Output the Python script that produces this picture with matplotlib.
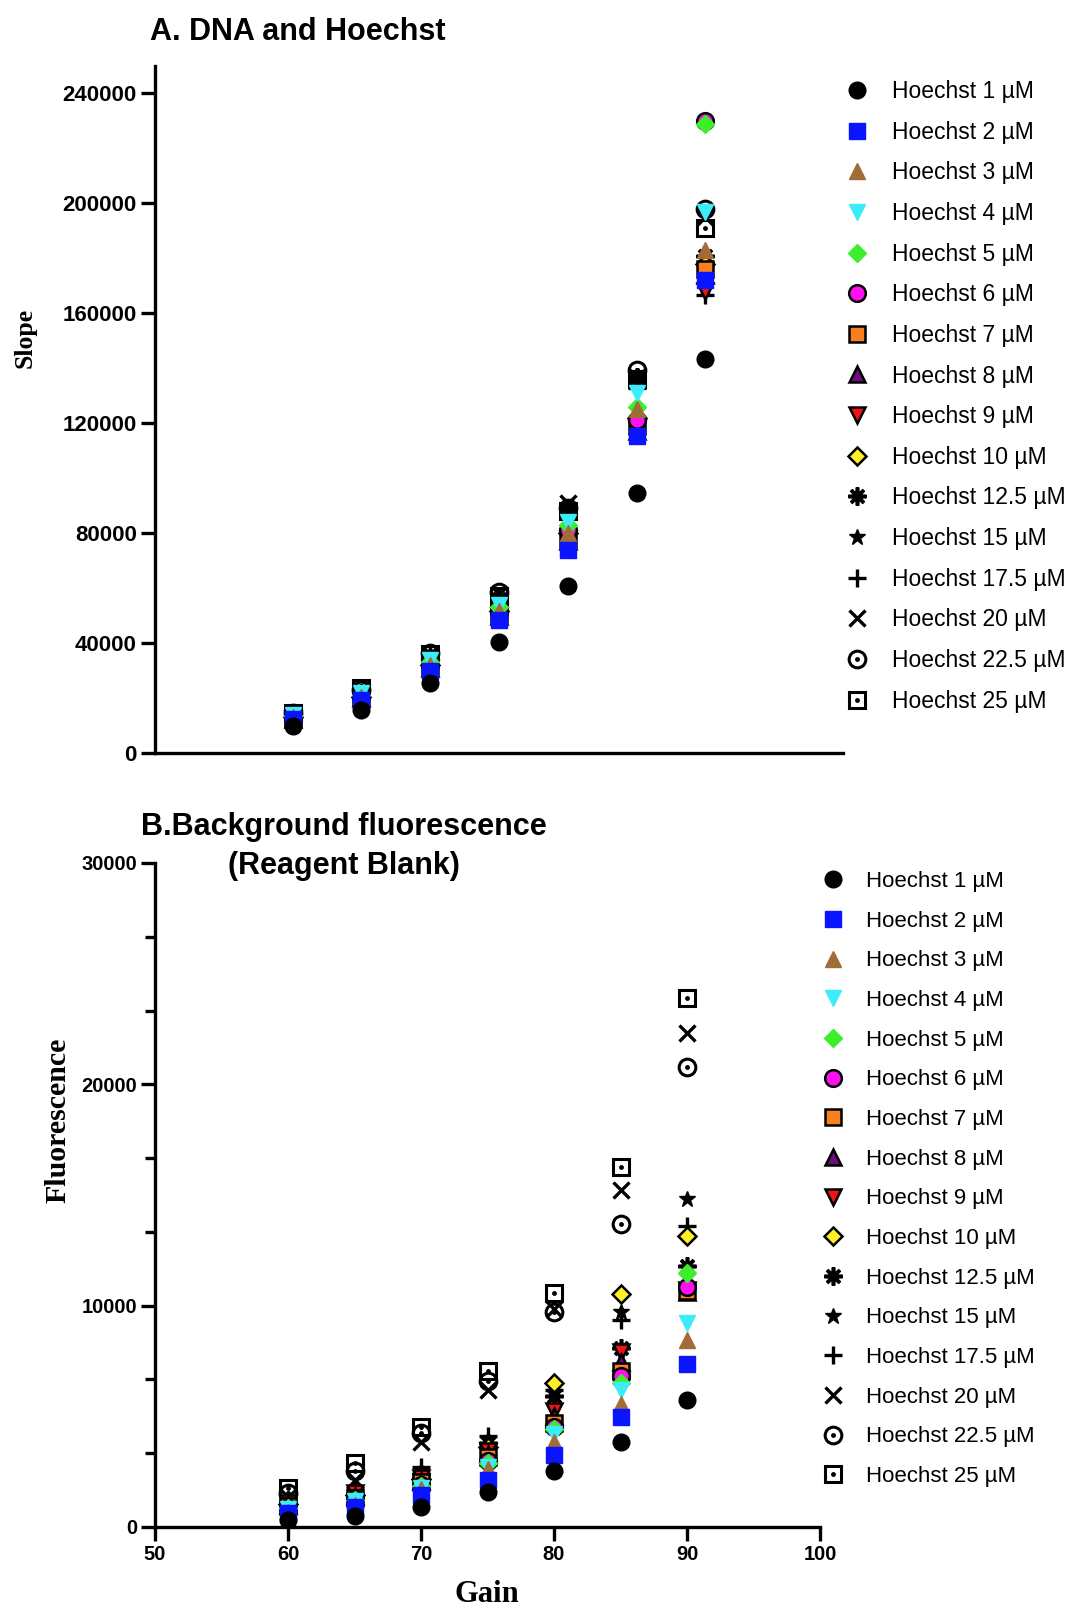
import matplotlib
matplotlib.use('Agg')
import matplotlib.pyplot as plt
from matplotlib.legend_handler import HandlerTuple
from matplotlib.ticker import MultipleLocator, StrMethodFormatter

gain = [60, 65, 70, 75, 80, 85, 90]

labels = ['Hoechst 1 µM', 'Hoechst 2 µM', 'Hoechst 3 µM', 'Hoechst 4 µM',
          'Hoechst 5 µM', 'Hoechst 6 µM', 'Hoechst 7 µM', 'Hoechst 8 µM',
          'Hoechst 9 µM', 'Hoechst 10 µM', 'Hoechst 12.5 µM', 'Hoechst 15 µM',
          'Hoechst 17.5 µM', 'Hoechst 20 µM', 'Hoechst 22.5 µM', 'Hoechst 25 µM']

# A: slope of DNA + Hoechst vs gain, one row per concentration
slope = [
    [10000, 15500, 25500, 40300, 60800, 94700, 143500],
    [12200, 19300, 29800, 48500, 74000, 115500, 172000],
    [13000, 20500, 32000, 51500, 80000, 125000, 183000],
    [14000, 22000, 34000, 54000, 84000, 131000, 197000],
    [13500, 21000, 33000, 53000, 83000, 126000, 229000],
    [13000, 20500, 32000, 51000, 81000, 121000, 230000],
    [13000, 20500, 31500, 50500, 78000, 119000, 176000],
    [12500, 20000, 31000, 50000, 77000, 117000, 174000],
    [12500, 20000, 31000, 50000, 78000, 118000, 168000],
    [13000, 20500, 32000, 51500, 80000, 122000, 178000],
    [14000, 22000, 35000, 56000, 88000, 137000, 181000],
    [14000, 22000, 35000, 56000, 87000, 135000, 169000],
    [13500, 21500, 34000, 55000, 86000, 133000, 166500],
    [14500, 23000, 36000, 58000, 91000, 137000, 195000],
    [14500, 23000, 36500, 58500, 89000, 139500, 198000],
    [14500, 23500, 36000, 57000, 88000, 136000, 191000],
]

# B: reagent blank fluorescence vs gain
blank = [
    [310, 510, 910, 1600, 2520, 3840, 5740],
    [650, 910, 1430, 2120, 3240, 4970, 7380],
    [700, 1000, 1700, 2600, 3840, 5570, 8450],
    [820, 1170, 1770, 2720, 4190, 6180, 9200],
    [850, 1200, 1860, 2900, 4450, 6520, 11460],
    [880, 1250, 1900, 3000, 4500, 6800, 10840],
    [950, 1300, 2030, 3160, 4710, 7040, 10660],
    [1000, 1400, 2100, 3300, 5000, 7470, 10600],
    [1080, 1520, 2200, 3420, 5220, 7900, 10700],
    [1050, 1450, 2150, 3600, 6520, 10530, 13170],
    [1100, 1500, 2400, 3800, 5900, 8100, 11790],
    [1150, 1600, 2460, 3930, 6100, 9720, 14840],
    [1200, 1770, 2720, 4100, 6180, 9370, 13600],
    [1340, 2120, 3840, 6180, 9850, 15240, 22320],
    [1520, 2550, 4240, 6610, 9700, 13690, 20770],
    [1770, 2900, 4530, 7040, 10580, 16280, 23920],
]

styles = [
    dict(marker='o', mfc='black', mec='black', ms=12, mew=1),
    dict(marker='s', mfc='#0A14FF', mec='#0A14FF', ms=11.5, mew=1),
    dict(marker='^', mfc='#A26C38', mec='#A26C38', ms=12, mew=1),
    dict(marker='v', mfc='#3CECFA', mec='#3CECFA', ms=12, mew=1),
    dict(marker='D', mfc='#3DEE2A', mec='#3DEE2A', ms=9, mew=1),
    dict(marker='o', mfc='#FF10F0', mec='black', ms=12, mew=1.8),
    dict(marker='s', mfc='#F8801E', mec='black', ms=11.5, mew=1.8),
    dict(marker='^', mfc='#6B0F7A', mec='black', ms=12, mew=1.8),
    dict(marker='v', mfc='#F01414', mec='black', ms=12, mew=1.8),
    dict(marker='D', mfc='#FFEF28', mec='black', ms=9, mew=1.8),
    dict(marker=(8, 2, 0), mfc='black', mec='black', ms=13, mew=2.6),
    dict(marker='*', mfc='black', mec='black', ms=12, mew=1),
    dict(marker='+', mfc='black', mec='black', ms=13, mew=2.4),
    dict(marker='x', mfc='black', mec='black', ms=11, mew=2.4),
    dict(marker='o', mfc='none', mec='black', ms=12, mew=2.2),
    dict(marker='s', mfc='none', mec='black', ms=11.5, mew=2.2),
]
dotted = [14, 15]  # open markers with a centre dot

sans = ['Liberation Sans', 'Arial', 'DejaVu Sans']
serif = ['Liberation Serif', 'Times New Roman', 'DejaVu Serif']


def draw_points(ax, values):
    handles = [None] * len(values)
    # last series first so the low concentrations sit on top
    for i in reversed(range(len(values))):
        h = ax.plot(gain, values[i], ls='none', **styles[i])[0]
        if i in dotted:
            d = ax.plot(gain, values[i], ls='none', marker='o', color='black',
                        ms=3.5, mew=0)[0]
            h = (h, d)
        handles[i] = h
    return handles


def style_axis(ax, lw=2.4):
    for s in ['top', 'right']:
        ax.spines[s].set_visible(False)
    for s in ['left', 'bottom']:
        ax.spines[s].set_linewidth(lw)


def add_legend(ax, handles, x0, y0, fs, spacing):
    ax.legend(handles, labels, loc='upper left', bbox_to_anchor=(x0, y0),
              bbox_transform=fig.transFigure, frameon=False, borderpad=0,
              borderaxespad=0, handlelength=1.0, handletextpad=1.0,
              labelspacing=spacing, prop=dict(family=sans, size=fs),
              handler_map={tuple: HandlerTuple(ndivide=1)})


W, H = 1072, 1607
fig = plt.figure(figsize=(W / 100, H / 100), dpi=100)


def px_axes(left, top, right, bottom):
    return fig.add_axes([left / W, 1 - bottom / H, (right - left) / W,
                         (bottom - top) / H])


# ---- A. DNA and Hoechst ----
ax1 = px_axes(155, 66, 843, 753)
hA = draw_points(ax1, slope)
ax1.set_xlim(50, 100)
ax1.set_ylim(0, 250000)
style_axis(ax1)
ax1.set_xticks([])
ax1.yaxis.set_major_locator(MultipleLocator(40000))
ax1.yaxis.set_major_formatter(StrMethodFormatter('{x:.0f}'))
ax1.tick_params(axis='y', direction='out', length=10, width=2.4, pad=3)
for t in ax1.get_yticklabels():
    t.set_fontfamily(sans)
    t.set_fontweight('bold')
    t.set_fontsize(16)
add_legend(ax1, hA, 846 / W, 1 - 80 / H, 16.5, 0.77)

fig.text(150 / W, 1 - 32 / H, 'A. DNA and Hoechst', ha='left', va='center',
         fontsize=22, fontweight='bold', family=sans)
fig.text(25 / W, 1 - 338 / H, 'Slope', rotation=90, ha='center',
         va='center', fontsize=18.5, fontweight='bold', family=serif)

# ---- B. Background fluorescence ----
ax2 = px_axes(155, 863, 820, 1527)
hB = draw_points(ax2, blank)
ax2.set_xlim(50, 100)
ax2.set_ylim(0, 30000)
style_axis(ax2)
ax2.xaxis.set_major_locator(MultipleLocator(10))
ax2.yaxis.set_major_locator(MultipleLocator(10000))
ax2.yaxis.set_minor_locator(MultipleLocator(10000 / 3))
ax2.tick_params(axis='both', which='major', direction='out', length=10,
                width=2.4, pad=3)
ax2.tick_params(axis='y', which='minor', direction='out', length=7,
                width=2.4)
for t in ax2.get_xticklabels() + ax2.get_yticklabels():
    t.set_fontfamily(sans)
    t.set_fontweight('bold')
    t.set_fontsize(14.5)
add_legend(ax2, hB, 822 / W, 1 - 871 / H, 16, 0.84)

fig.text(344 / W, 1 - 827 / H, 'B.Background fluorescence', ha='center',
         va='center', fontsize=22, fontweight='bold', family=sans)
fig.text(344 / W, 1 - 866 / H, '(Reagent Blank)', ha='center',
         va='center', fontsize=22, fontweight='bold', family=sans)
fig.text(58 / W, 1 - 1120 / H, 'Fluorescence', rotation=90, ha='center',
         va='center', fontsize=21.5, fontweight='bold', family=serif)
fig.text(487 / W, 1 - 1595 / H, 'Gain', ha='center', va='center',
         fontsize=22, fontweight='bold', family=serif)

fig.savefig('out.png', dpi=100)
